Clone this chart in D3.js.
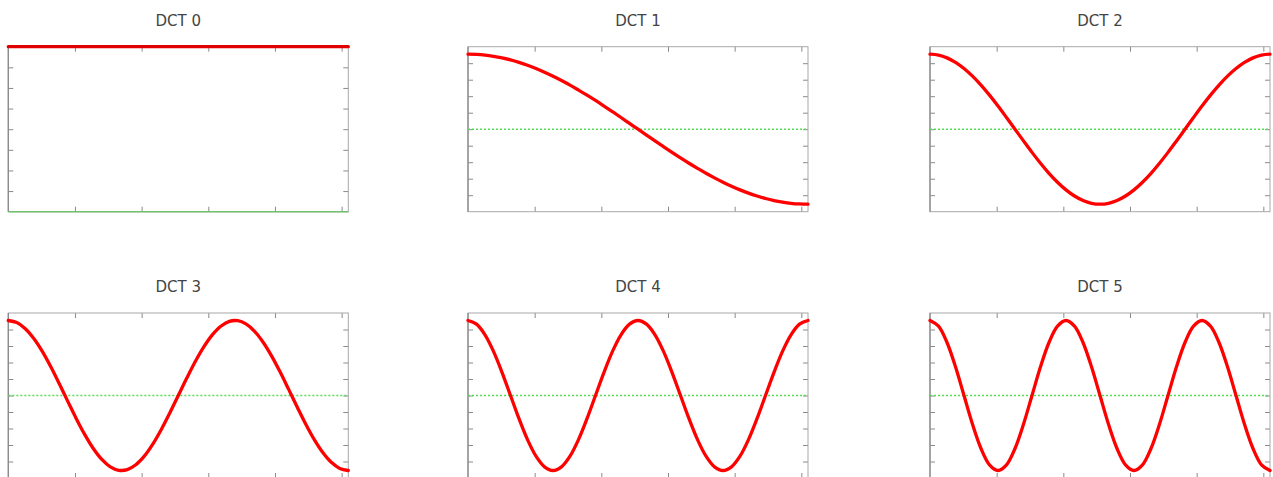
<!DOCTYPE html>
<html>
<head>
<meta charset="utf-8">
<script src="https://cdn.jsdelivr.net/npm/d3@7"></script>
<style>
  html, body { margin: 0; padding: 0; background: #fff; }
  svg { display: block; }
</style>
</head>
<body>
<svg id="chart" width="1273" height="477"></svg>
<script>
// ---- data ----
const titles = ["DCT 0", "DCT 1", "DCT 2", "DCT 3", "DCT 4", "DCT 5"];
const sampleX = [0, 6.375, 12.75, 19.125, 25.5, 31.875, 38.25, 44.625, 51, 57.375,
                 63.75, 70.125, 76.5, 82.875, 89.25, 95.625, 102, 108.375, 114.75, 121.125,
                 127.5, 133.875, 140.25, 146.625, 153, 159.375, 165.75, 172.125, 178.5, 184.875,
                 191.25, 197.625, 204, 210.375, 216.75, 223.125, 229.5, 235.875, 242.25, 248.625, 255];
const dct0 = [1, 1, 1, 1, 1, 1, 1, 1, 1, 1, 1, 1, 1, 1, 1, 1, 1, 1, 1, 1, 1,
              1, 1, 1, 1, 1, 1, 1, 1, 1, 1, 1, 1, 1, 1, 1, 1, 1, 1, 1, 1];
const dct1 = [1, 0.997, 0.988, 0.972, 0.951, 0.924, 0.891, 0.853, 0.809, 0.760, 0.707,
              0.649, 0.588, 0.522, 0.454, 0.383, 0.309, 0.233, 0.156, 0.078, 0,
              -0.078, -0.156, -0.233, -0.309, -0.383, -0.454, -0.522, -0.588, -0.649, -0.707,
              -0.760, -0.809, -0.853, -0.891, -0.924, -0.951, -0.972, -0.988, -0.997, -1];
const dct2 = [1, 0.988, 0.951, 0.891, 0.809, 0.707, 0.588, 0.454, 0.309, 0.156, 0,
              -0.156, -0.309, -0.454, -0.588, -0.707, -0.809, -0.891, -0.951, -0.988, -1,
              -0.988, -0.951, -0.891, -0.809, -0.707, -0.588, -0.454, -0.309, -0.156, 0,
              0.156, 0.309, 0.454, 0.588, 0.707, 0.809, 0.891, 0.951, 0.988, 1];
const dct3 = [1, 0.972, 0.891, 0.760, 0.588, 0.383, 0.156, -0.078, -0.309, -0.522, -0.707,
              -0.853, -0.951, -0.997, -0.988, -0.924, -0.809, -0.649, -0.454, -0.233, 0,
              0.233, 0.454, 0.649, 0.809, 0.924, 0.988, 0.997, 0.951, 0.853, 0.707,
              0.522, 0.309, 0.078, -0.156, -0.383, -0.588, -0.760, -0.891, -0.972, -1];
const dct4 = [1, 0.951, 0.809, 0.588, 0.309, 0, -0.309, -0.588, -0.809, -0.951, -1,
              -0.951, -0.809, -0.588, -0.309, 0, 0.309, 0.588, 0.809, 0.951, 1,
              0.951, 0.809, 0.588, 0.309, 0, -0.309, -0.588, -0.809, -0.951, -1,
              -0.951, -0.809, -0.588, -0.309, 0, 0.309, 0.588, 0.809, 0.951, 1];
const dct5 = [1, 0.924, 0.707, 0.383, 0, -0.383, -0.707, -0.924, -1, -0.924, -0.707,
              -0.383, 0, 0.383, 0.707, 0.924, 1, 0.924, 0.707, 0.383, 0,
              -0.383, -0.707, -0.924, -1, -0.924, -0.707, -0.383, 0, 0.383, 0.707,
              0.924, 1, 0.924, 0.707, 0.383, 0, -0.383, -0.707, -0.924, -1];
const seriesList = [dct0, dct1, dct2, dct3, dct4, dct5];
const xDomain = [0, 255];
const xTicks = [50, 100, 150, 200, 250];
const yDomainDC = [0, 1];
const yTicksDC = [0.125, 0.25, 0.375, 0.5, 0.625, 0.75, 0.875];
const yDomainAC = [-1.1, 1.1];
const yTicksAC = [-0.88, -0.66, -0.44, -0.22, 0, 0.22, 0.44, 0.66, 0.88];

// ---- layout ----
const panelLeft = [8.3, 468, 930];
const panelTop = [46.7, 313];
const titleBase = [26, 292];
const pw = 340, ph = 165;
const tickLen = 5;

const svg = d3.select("#chart");

seriesList.forEach((vals, i) => {
  const col = i % 3, row = Math.floor(i / 3);
  const g = svg.append("g").attr("transform", `translate(${panelLeft[col]},${panelTop[row]})`);
  const isDC = i === 0;
  const x = d3.scaleLinear().domain(xDomain).range([0, pw]);
  const y = d3.scaleLinear().domain(isDC ? yDomainDC : yDomainAC).range([ph, 0]);
  const yt = isDC ? yTicksDC : yTicksAC;

  // title
  svg.append("text")
    .attr("x", panelLeft[col] + pw / 2)
    .attr("y", titleBase[row])
    .attr("text-anchor", "middle")
    .attr("font-family", "DejaVu Sans, sans-serif")
    .attr("font-size", 15)
    .attr("fill", "#444")
    .text(titles[i]);

  // inward ticks on all four sides
  const axes = [
    g.append("g").call(d3.axisBottom(x).tickValues(xTicks).tickSize(-tickLen).tickFormat("")).attr("transform", `translate(0,${ph})`),
    g.append("g").call(d3.axisTop(x).tickValues(xTicks).tickSize(-tickLen).tickFormat("")),
    g.append("g").call(d3.axisLeft(y).tickValues(yt).tickSize(-tickLen).tickFormat("")),
    g.append("g").call(d3.axisRight(y).tickValues(yt).tickSize(-tickLen).tickFormat("")).attr("transform", `translate(${pw},0)`)
  ];
  axes.forEach(a => {
    a.select(".domain").remove();
    a.selectAll(".tick line").attr("stroke", "#8a8a8a").attr("stroke-width", 1);
  });

  // frame
  g.append("rect")
    .attr("x", 0).attr("y", 0).attr("width", pw).attr("height", ph)
    .attr("fill", "none").attr("stroke", "#a8a8a8").attr("stroke-width", 1);
  g.append("line").attr("x1", 0).attr("x2", 0).attr("y1", 0).attr("y2", ph)
    .attr("stroke", "#8a8a8a").attr("stroke-width", 1.3);

  // zero line
  g.append("line")
    .attr("x1", x(xDomain[0])).attr("x2", x(xDomain[1]))
    .attr("y1", y(0)).attr("y2", y(0))
    .attr("stroke", isDC ? "#6fbf6f" : "#55dd55").attr("stroke-width", 1.5)
    .attr("stroke-dasharray", isDC ? null : "2,2");

  // curve
  const line = d3.line()
    .x((d, j) => x(sampleX[j]))
    .y(d => y(d))
    .curve(d3.curveCatmullRom);
  g.append("path")
    .datum(vals)
    .attr("d", line)
    .attr("fill", "none")
    .attr("stroke", isDC ? "#e00000" : "#ff0000")
    .attr("stroke-width", 3.3)
    .attr("stroke-linecap", "round");
});
</script>
</body>
</html>
